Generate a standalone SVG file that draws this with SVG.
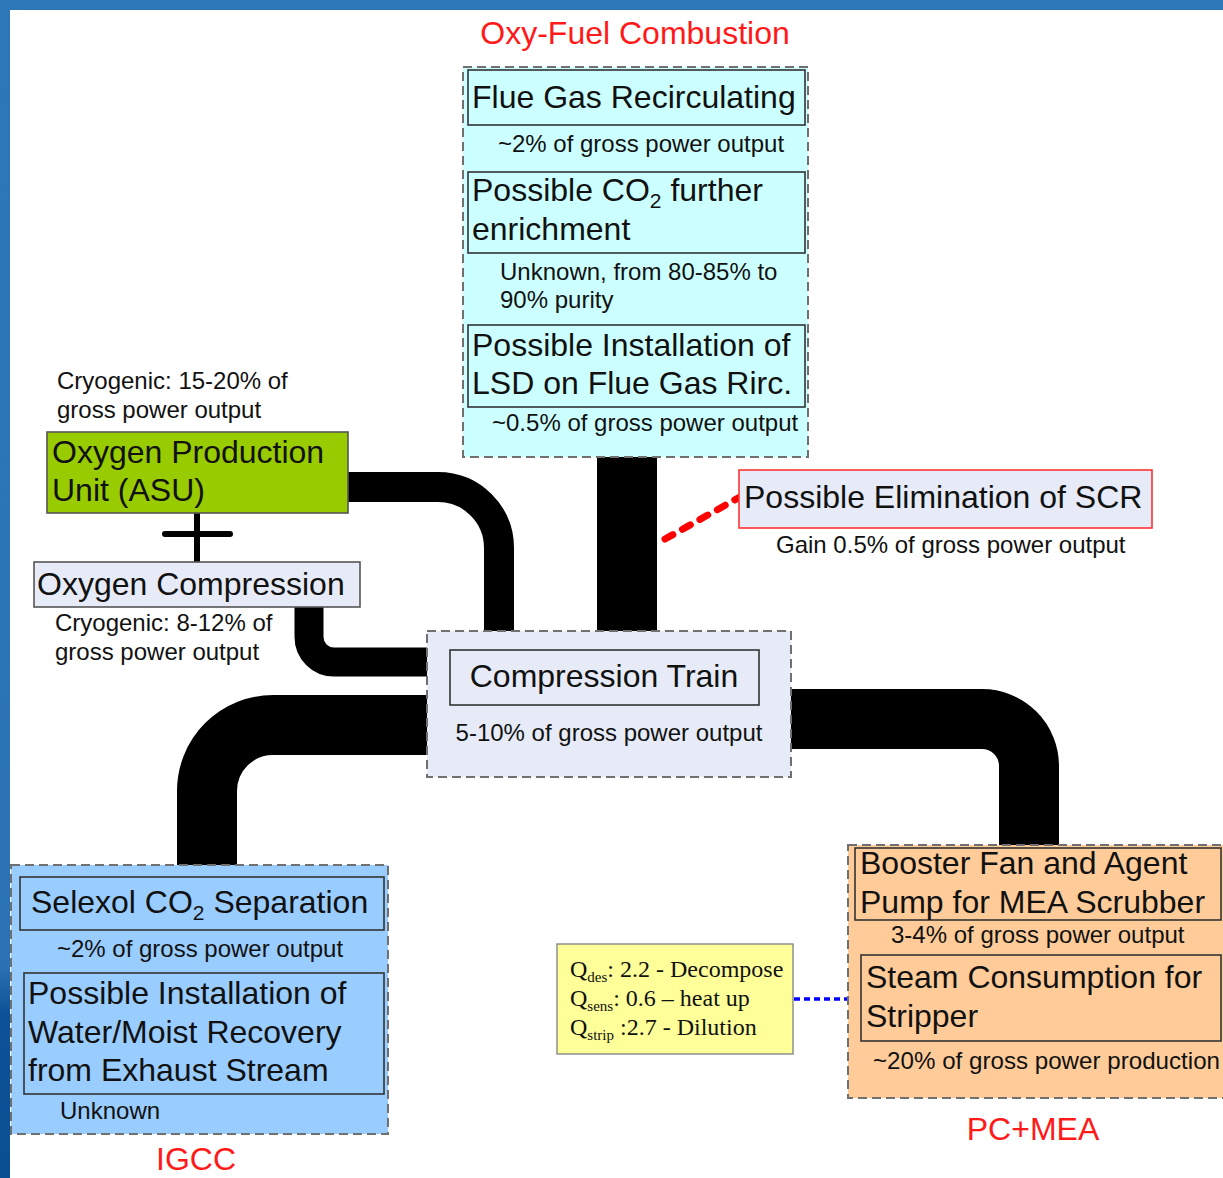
<svg xmlns="http://www.w3.org/2000/svg" width="1223" height="1178" viewBox="0 0 1223 1178">
<style>
text{font-family:"Liberation Sans",Arial,sans-serif;fill:#111}
.big{font-size:32px}
.sm{font-size:24px}
.red{fill:#ff1a1a;font-size:32px}
.ser{font-family:"Liberation Serif","Times New Roman",serif;font-size:24px}
.sub{font-size:15px}
.cont{stroke:#707070;stroke-width:2;stroke-dasharray:9 5}
.inner{fill:none;stroke:#333;stroke-width:1.6}
.pipe{fill:none;stroke:#000}
</style>
<defs>
<linearGradient id="strip" x1="0" y1="0" x2="0" y2="1">
<stop offset="0" stop-color="#2d77b8"/>
<stop offset="0.82" stop-color="#2a72b3"/>
<stop offset="0.86" stop-color="#0d5296"/>
<stop offset="1" stop-color="#0b4f93"/>
</linearGradient>
</defs>
<rect x="0" y="0" width="1223" height="1178" fill="#fff"/>
<rect x="0" y="0" width="1223" height="10" fill="#2d77b8"/>
<rect x="0" y="0" width="10" height="1178" fill="url(#strip)"/>

<g id="connectors">
<path class="pipe" d="M348 487 H438 A61 61 0 0 1 499 548 V632" stroke-width="30"/>
<path class="pipe" d="M309 606 V637 A25 25 0 0 0 334 662 H430" stroke-width="29"/>
<rect x="597" y="457" width="60" height="175" fill="#000"/>
<path class="pipe" d="M430 725 H273 A66 66 0 0 0 207 791 V865" stroke-width="60"/>
<path class="pipe" d="M790 719 H982 A47 47 0 0 1 1029 766 V846" stroke-width="60"/>
<line x1="197" y1="513" x2="197" y2="562" stroke="#000" stroke-width="6"/>
<line x1="165" y1="534" x2="230" y2="534" stroke="#000" stroke-width="6" stroke-linecap="round"/>
<line x1="665" y1="539" x2="740" y2="497" stroke="#ff0000" stroke-width="7" stroke-linecap="round" stroke-dasharray="9 11"/>
<line x1="794" y1="999" x2="862" y2="999" stroke="#0000ff" stroke-width="3.5" stroke-dasharray="6 4"/>
</g>

<g id="oxyfuel">
<text class="red" x="635" y="44" text-anchor="middle">Oxy-Fuel Combustion</text>
<rect class="cont" x="463" y="67" width="345" height="390" fill="#ccffff"/>
<rect class="inner" x="468" y="70" width="337" height="55"/>
<text class="big" x="472" y="108">Flue Gas Recirculating</text>
<text class="sm" x="641" y="152" text-anchor="middle">~2% of gross power output</text>
<rect class="inner" x="468" y="172" width="337" height="81"/>
<text class="big" x="472" y="201">Possible CO<tspan font-size="21" dy="7">2</tspan><tspan dy="-7"> further</tspan></text>
<text class="big" x="472" y="240">enrichment</text>
<text class="sm" x="500" y="280">Unknown, from 80-85% to</text>
<text class="sm" x="500" y="308">90% purity</text>
<rect class="inner" x="468" y="325" width="337" height="82"/>
<text class="big" x="472" y="356">Possible Installation of</text>
<text class="big" x="472" y="394">LSD on Flue Gas Rirc.</text>
<text class="sm" x="492" y="431">~0.5% of gross power output</text>
</g>

<g id="scr">
<rect x="739" y="470" width="413" height="58" fill="#e6ebf7" stroke="#ff3333" stroke-width="1.6"/>
<text class="big" x="744" y="508">Possible Elimination of SCR</text>
<text class="sm" x="776" y="553">Gain 0.5% of gross power output</text>
</g>

<g id="asu">
<text class="sm" x="57" y="389">Cryogenic: 15-20% of</text>
<text class="sm" x="57" y="418">gross power output</text>
<rect x="47" y="432" width="301" height="81" fill="#99cc00" stroke="#555" stroke-width="1.6"/>
<text class="big" x="52" y="463">Oxygen Production</text>
<text class="big" x="52" y="501">Unit (ASU)</text>
</g>

<g id="o2comp">
<rect x="34" y="562" width="326" height="45" fill="#e6ebf7" stroke="#555" stroke-width="1.6"/>
<text class="big" x="37" y="595">Oxygen Compression</text>
<text class="sm" x="55" y="631">Cryogenic: 8-12% of</text>
<text class="sm" x="55" y="660">gross power output</text>
</g>

<g id="comptrain">
<rect class="cont" x="427" y="631" width="364" height="146" fill="#e6ebf7"/>
<rect class="inner" x="450" y="650" width="309" height="55"/>
<text class="big" x="604" y="687" text-anchor="middle">Compression Train</text>
<text class="sm" x="609" y="741" text-anchor="middle">5-10% of gross power output</text>
</g>

<g id="igcc">
<rect class="cont" x="11" y="865" width="377" height="269" fill="#99ccff"/>
<rect class="inner" x="20" y="877" width="364" height="53"/>
<text class="big" x="31" y="913">Selexol CO<tspan font-size="21" dy="7">2</tspan><tspan dy="-7"> Separation</tspan></text>
<text class="sm" x="200" y="957" text-anchor="middle">~2% of gross power output</text>
<rect class="inner" x="24" y="973" width="360" height="121"/>
<text class="big" x="28" y="1004">Possible Installation of</text>
<text class="big" x="28" y="1043">Water/Moist Recovery</text>
<text class="big" x="28" y="1081">from Exhaust Stream</text>
<text class="sm" x="60" y="1119">Unknown</text>
<text class="red" x="196" y="1170" text-anchor="middle">IGCC</text>
</g>

<g id="pcmea">
<rect class="cont" x="848" y="845" width="380" height="253" fill="#ffcc99"/>
<rect class="inner" x="855" y="848" width="366" height="72"/>
<text class="big" x="860" y="874">Booster Fan and Agent</text>
<text class="big" x="860" y="913">Pump for MEA Scrubber</text>
<text class="sm" x="891" y="943">3-4% of gross power output</text>
<rect class="inner" x="861" y="955" width="360" height="86"/>
<text class="big" x="866" y="988">Steam Consumption for</text>
<text class="big" x="866" y="1027">Stripper</text>
<text class="sm" x="873" y="1069" textLength="347" lengthAdjust="spacingAndGlyphs">~20% of gross power production</text>
<text class="red" x="1033" y="1140" text-anchor="middle">PC+MEA</text>
</g>

<g id="qbox">
<rect x="557" y="944" width="236" height="110" fill="#ffff99" stroke="#888" stroke-width="1.4"/>
<text class="ser" x="570" y="977">Q<tspan class="sub" dy="5">des</tspan><tspan dy="-5">: 2.2 - Decompose</tspan></text>
<text class="ser" x="570" y="1006">Q<tspan class="sub" dy="5">sens</tspan><tspan dy="-5">: 0.6 – heat up</tspan></text>
<text class="ser" x="570" y="1035">Q<tspan class="sub" dy="5">strip</tspan><tspan dy="-5"> :2.7 - Dilution</tspan></text>
</g>
</svg>
